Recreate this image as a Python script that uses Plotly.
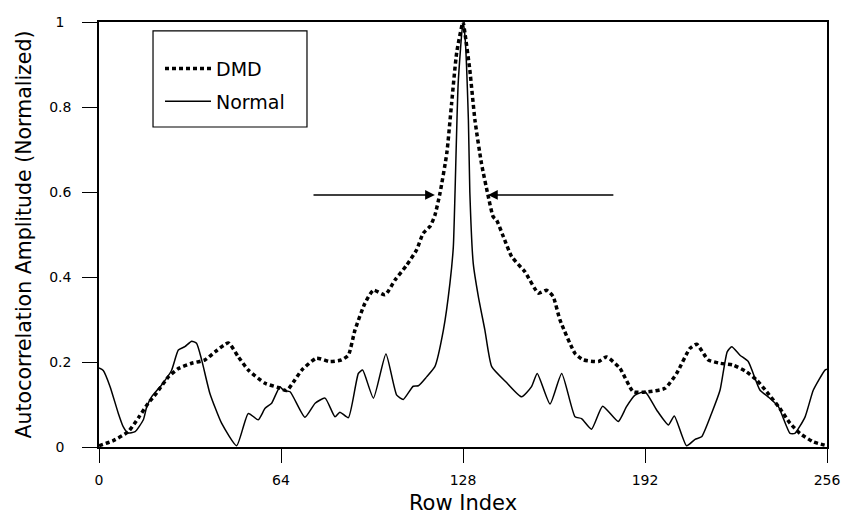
import plotly.graph_objects as go

# ---- data ----
normal_x = [0, 1.5, 3.9, 6.8, 8.5, 10.2, 12.7, 15.6, 16.8, 18.5, 22, 25.5, 27.9, 30.2, 32.6, 34.3,
            36.1, 39, 43.1, 48.4, 52.5, 56, 58.4, 60.7, 63.6, 64.8, 67.2, 72.4, 76, 79.5, 83, 84.7,
            87.7, 91.2, 92.7, 96.5, 100.9, 104.7, 107, 110.5, 112.3, 115.2, 118.1, 121.1, 123.4,
            124.6, 125.2, 126.3, 128, 128.7, 129.9, 130.4, 131.6, 133.4, 135.7, 138.1, 143.4, 148.6,
            152.1, 154.1, 158.6, 162.7, 167.4, 169.7, 173.2, 177.1, 182.6, 185.5, 188.5, 192, 196.1,
            200.2, 202.3, 206.6, 209.6, 211.9, 215.4, 218.4, 220.9, 222.5, 225.4, 228.3, 232.4,
            235.3, 238.9, 243, 244.7, 248.3, 251.2, 255.3, 256]
normal_y = [0.186, 0.18, 0.142, 0.079, 0.048, 0.033, 0.036, 0.064, 0.095, 0.118, 0.146, 0.18, 0.228,
            0.236, 0.249, 0.244, 0.205, 0.126, 0.056, 0.003, 0.079, 0.064, 0.091, 0.103, 0.142, 0.134,
            0.13, 0.07, 0.103, 0.115, 0.071, 0.082, 0.069, 0.173, 0.181, 0.115, 0.219, 0.122, 0.112,
            0.143, 0.144, 0.165, 0.189, 0.275, 0.385, 0.471, 0.6, 0.855, 1.0, 0.966, 0.769, 0.6, 0.432,
            0.354, 0.275, 0.189, 0.151, 0.118, 0.142, 0.173, 0.101, 0.173, 0.071, 0.067, 0.042, 0.096,
            0.06, 0.095, 0.122, 0.13, 0.087, 0.052, 0.073, 0.003, 0.018, 0.024, 0.079, 0.134, 0.224,
            0.236, 0.216, 0.201, 0.134, 0.118, 0.095, 0.032, 0.032, 0.071, 0.134, 0.181, 0.183]

dmd_x = [0, 5, 10.3, 14, 17.3, 20, 24.4, 28, 32.6, 37.3, 41, 45.5, 49, 52.5, 58.4, 63, 66, 68.9,
         71.3, 76.5, 81.2, 85.3, 87.7, 90, 93.5, 96.5, 100.6, 104.1, 108.2, 111.7, 114, 116.5, 118.1,
         119.9, 122.3, 124, 125.8, 128, 128.7, 130.4, 132.2, 134.5, 136.9, 138.6, 139.8, 142.2,
         145.1, 149.8, 154.5, 157.4, 159.7, 162.1, 167.4, 170.3, 175.6, 178.5, 183.2, 187.9, 193.1,
         199, 203.1, 207.8, 210.2, 214.2, 218.4, 222.9, 227.7, 231.2, 234.8, 239.4, 243, 246.5,
         251.2, 256]
dmd_y = [0.003, 0.015, 0.036, 0.07, 0.103, 0.125, 0.165, 0.185, 0.197, 0.205, 0.225, 0.245, 0.212,
         0.181, 0.15, 0.14, 0.133, 0.158, 0.181, 0.209, 0.201, 0.205, 0.216, 0.275, 0.338, 0.369,
         0.358, 0.393, 0.428, 0.464, 0.503, 0.52, 0.545, 0.597, 0.691, 0.809, 0.929, 1.0, 0.973,
         0.887, 0.769, 0.667, 0.589, 0.542, 0.534, 0.495, 0.448, 0.412, 0.362, 0.369, 0.354, 0.299,
         0.22, 0.205, 0.201, 0.212, 0.185, 0.13, 0.13, 0.138, 0.173, 0.232, 0.242, 0.205, 0.197,
         0.193, 0.177, 0.158, 0.13, 0.091, 0.056, 0.032, 0.012, 0.003]

x_ticks = [0, 64, 128, 192, 256]
y_ticks = [0, 0.2, 0.4, 0.6, 0.8, 1]
# single-digit labels carry a trailing en space so they sit centred like the reference
y_tick_labels = ["0\u2002", "0.2", "0.4", "0.6", "0.8", "1\u2002"]

# width arrows: (tail x, head x) at a common level
arrow_level = 0.593
arrow_left = (74.9, 118.1)
arrow_right = (181.4, 136.8)

FONT = "DejaVu Sans"

fig = go.Figure()
fig.add_trace(go.Scatter(x=dmd_x, y=dmd_y, mode="lines", name="DMD", legendgroup="a",
                         line=dict(color="black", width=3.5, dash="4px,3px", shape="spline", smoothing=0.5)))
fig.add_trace(go.Scatter(x=normal_x, y=normal_y, mode="lines", name="Normal", legendgroup="b",
                         line=dict(color="black", width=1.5, shape="spline", smoothing=0.5)))

for tail, head in (arrow_left, arrow_right):
    fig.add_annotation(x=head, y=arrow_level, ax=tail, ay=arrow_level, xref="x", yref="y",
                       axref="x", ayref="y", text="", showarrow=True, arrowhead=2,
                       arrowsize=1.5, arrowwidth=1.3, arrowcolor="black")

# legend frame (larger padding than plotly's own legend border)
fig.add_shape(type="rect", xref="paper", yref="paper", x0=0.0742, x1=0.2857, y0=0.753, y1=0.979,
              line=dict(color="black", width=1.2), fillcolor="rgba(0,0,0,0)", layer="above")

fig.update_layout(
    width=847, height=523,
    margin=dict(l=99, r=20, t=22, b=76, autoexpand=False),
    paper_bgcolor="white", plot_bgcolor="white",
    font=dict(family=FONT, color="black"),
    showlegend=True,
    legend=dict(x=0.0838, y=0.935, xanchor="left", yanchor="top",
                borderwidth=0, bgcolor="rgba(0,0,0,0)", itemwidth=46,
                font=dict(family=FONT, size=19), tracegroupgap=5),
)
fig.update_xaxes(range=[0, 256], tickvals=x_ticks, ticktext=[str(v) for v in x_ticks],
                 showline=True, linecolor="black", linewidth=1.5, mirror=True, automargin=False,
                 ticks="outside", ticklen=14, tickwidth=1.2, tickcolor="black",
                 ticklabelstandoff=5,
                 tickfont=dict(family=FONT, size=14), showgrid=False, zeroline=False,
                 title=dict(text="Row Index", font=dict(family=FONT, size=21), standoff=9))
fig.update_yaxes(range=[0, 1], tickvals=y_ticks, ticktext=y_tick_labels,
                 showline=True, linecolor="black", linewidth=1.5, mirror=True, automargin=False,
                 ticks="outside", ticklen=15, tickwidth=1.2, tickcolor="black",
                 ticklabelstandoff=8,
                 tickfont=dict(family=FONT, size=14), showgrid=False, zeroline=False,
                 title=dict(text="Autocorrelation Amplitude (Normalized)",
                            font=dict(family=FONT, size=20.5), standoff=12))

fig.write_html("out.html", config={"displayModeBar": False},
               post_script="document.body.style.margin='0';document.body.style.overflow='hidden';")
